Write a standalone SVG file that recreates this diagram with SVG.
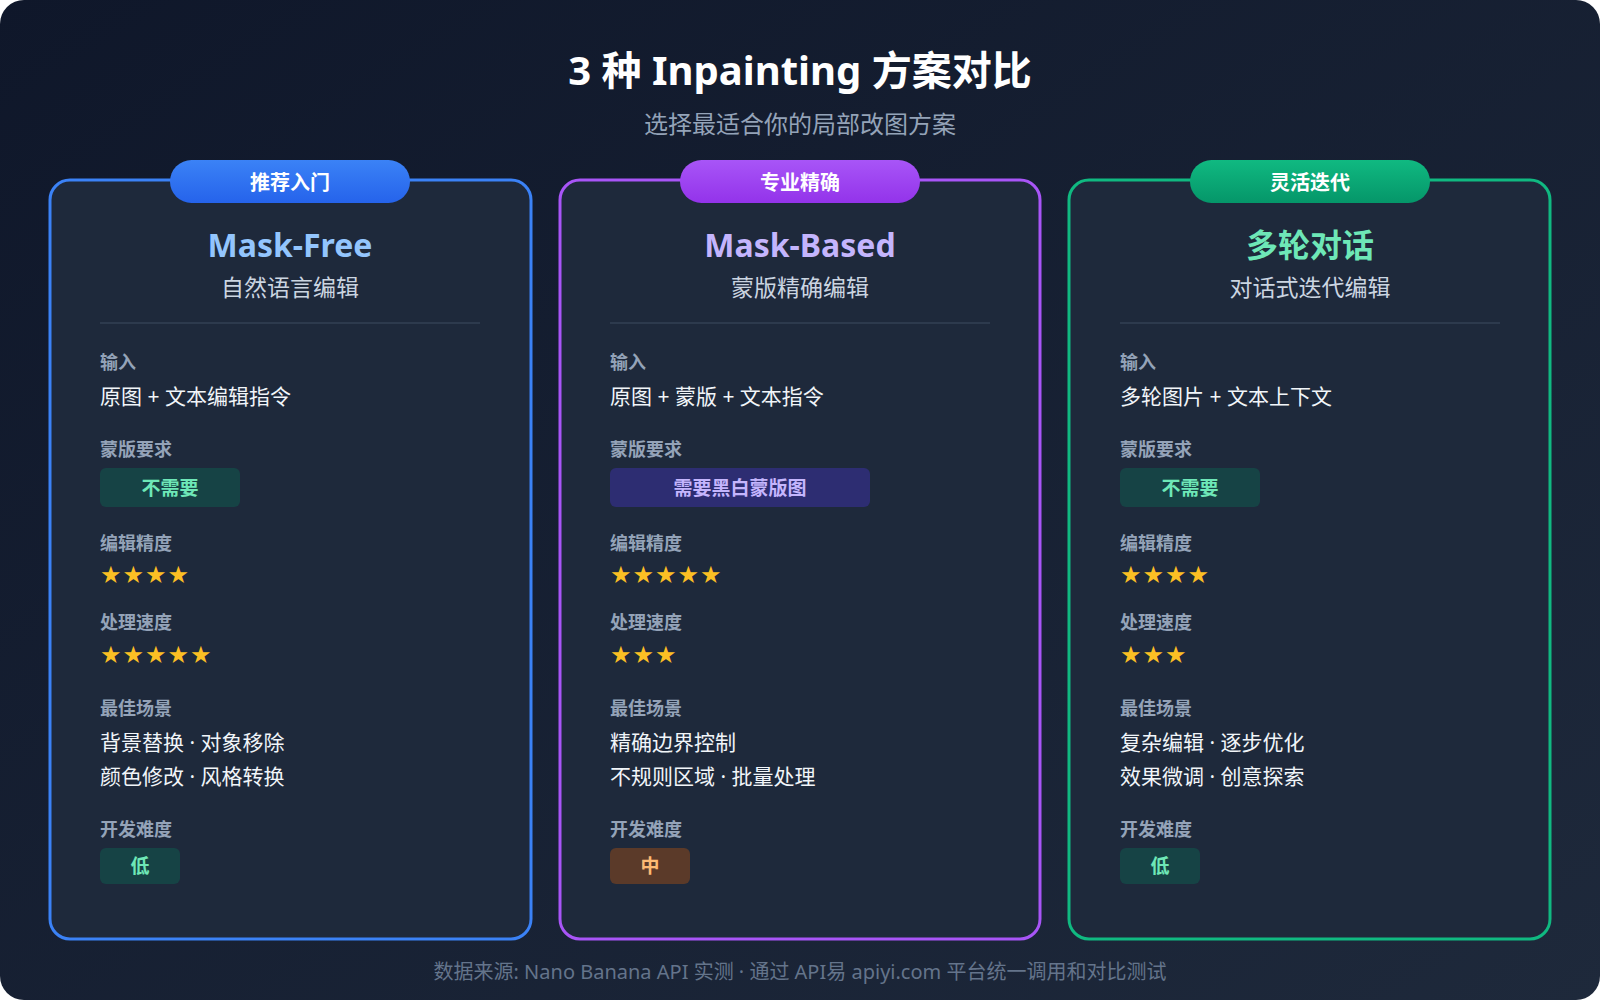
<svg xmlns="http://www.w3.org/2000/svg" width="1600" height="1000" viewBox="0 0 1600 1000">
<defs>
<linearGradient id="bg" x1="0" y1="0" x2="1" y2="1"><stop offset="0" stop-color="#0f172a"/><stop offset="1" stop-color="#1e293b"/></linearGradient>
<linearGradient id="gb" x1="0" y1="0" x2="0" y2="1"><stop offset="0" stop-color="#3b82f6"/><stop offset="1" stop-color="#2563eb"/></linearGradient>
<linearGradient id="gp" x1="0" y1="0" x2="0" y2="1"><stop offset="0" stop-color="#a855f7"/><stop offset="1" stop-color="#9333ea"/></linearGradient>
<linearGradient id="gg" x1="0" y1="0" x2="0" y2="1"><stop offset="0" stop-color="#10b981"/><stop offset="1" stop-color="#059669"/></linearGradient>
<style>
text{font-family:"Noto Sans","Noto Sans CJK SC",sans-serif;dominant-baseline:central}
.t{font-size:40px;font-weight:700;fill:#fff;text-anchor:middle}
.st{font-size:24px;fill:#94a3b8;text-anchor:middle}
.card{fill:#1e293b;stroke-width:3}
.bt{font-size:20px;font-weight:700;fill:#fff;text-anchor:middle}
.ct{font-size:32px;font-weight:700;text-anchor:middle}
.cs{font-size:23px;fill:#cbd5e1;text-anchor:middle}
.lb{font-size:18px;font-weight:700;fill:#94a3b8}
.v{font-size:21px;fill:#f1f5f9}
.star{font-size:24px;fill:#fbbf24;font-family:"DejaVu Sans",sans-serif;letter-spacing:1px}
.pt{font-size:19px;font-weight:700;text-anchor:middle}
.ft{font-size:20px;fill:#64748b;text-anchor:middle}
</style>
</defs>
<rect width="1600" height="1000" rx="24" fill="url(#bg)"/>
<text class="t" x="800" y="69">3 种 Inpainting 方案对比</text>
<text class="st" x="800" y="123">选择最适合你的局部改图方案</text>

<g id="card1">
<rect class="card" x="50" y="180" width="481" height="759" rx="20" stroke="#3b82f6"/>
<rect x="170" y="160" width="240" height="43" rx="21.5" fill="url(#gb)"/>
<text class="bt" x="290" y="182">推荐入门</text>
<text class="ct" x="290" y="244" fill="#93c5fd">Mask-Free</text>
<text class="cs" x="290" y="287">自然语言编辑</text>
<line x1="100" y1="323" x2="480" y2="323" stroke="#334155" stroke-width="1.5"/>
<text class="lb" x="100" y="362">输入</text>
<text class="v" x="100" y="396">原图 + 文本编辑指令</text>
<text class="lb" x="100" y="449">蒙版要求</text>
<rect x="100" y="468" width="140" height="39" rx="6" fill="#134e4a" fill-opacity="0.7"/>
<text class="pt" x="170" y="488" fill="#6ee7b7">不需要</text>
<text class="lb" x="100" y="543">编辑精度</text>
<text class="star" x="100" y="575">★★★★</text>
<text class="lb" x="100" y="622">处理速度</text>
<text class="star" x="100" y="655">★★★★★</text>
<text class="lb" x="100" y="708">最佳场景</text>
<text class="v" x="100" y="742">背景替换 · 对象移除</text>
<text class="v" x="100" y="776">颜色修改 · 风格转换</text>
<text class="lb" x="100" y="829">开发难度</text>
<rect x="100" y="848" width="80" height="36" rx="6" fill="#134e4a" fill-opacity="0.7"/>
<text class="pt" x="140" y="866" fill="#6ee7b7">低</text>
</g>

<g id="card2">
<rect class="card" x="560" y="180" width="480" height="759" rx="20" stroke="#a855f7"/>
<rect x="680" y="160" width="240" height="43" rx="21.5" fill="url(#gp)"/>
<text class="bt" x="800" y="182">专业精确</text>
<text class="ct" x="800" y="244" fill="#c4b5fd">Mask-Based</text>
<text class="cs" x="800" y="287">蒙版精确编辑</text>
<line x1="610" y1="323" x2="990" y2="323" stroke="#334155" stroke-width="1.5"/>
<text class="lb" x="610" y="362">输入</text>
<text class="v" x="610" y="396">原图 + 蒙版 + 文本指令</text>
<text class="lb" x="610" y="449">蒙版要求</text>
<rect x="610" y="468" width="260" height="39" rx="6" fill="#312e81" fill-opacity="0.8"/>
<text class="pt" x="740" y="488" fill="#c4b5fd">需要黑白蒙版图</text>
<text class="lb" x="610" y="543">编辑精度</text>
<text class="star" x="610" y="575">★★★★★</text>
<text class="lb" x="610" y="622">处理速度</text>
<text class="star" x="610" y="655">★★★</text>
<text class="lb" x="610" y="708">最佳场景</text>
<text class="v" x="610" y="742">精确边界控制</text>
<text class="v" x="610" y="776">不规则区域 · 批量处理</text>
<text class="lb" x="610" y="829">开发难度</text>
<rect x="610" y="848" width="80" height="36" rx="6" fill="#5b3a29"/>
<text class="pt" x="650" y="866" fill="#fdba74">中</text>
</g>

<g id="card3">
<rect class="card" x="1069" y="180" width="481" height="759" rx="20" stroke="#10b981"/>
<rect x="1190" y="160" width="240" height="43" rx="21.5" fill="url(#gg)"/>
<text class="bt" x="1310" y="182">灵活迭代</text>
<text class="ct" x="1310" y="244" fill="#6ee7b7">多轮对话</text>
<text class="cs" x="1310" y="287">对话式迭代编辑</text>
<line x1="1120" y1="323" x2="1500" y2="323" stroke="#334155" stroke-width="1.5"/>
<text class="lb" x="1120" y="362">输入</text>
<text class="v" x="1120" y="396">多轮图片 + 文本上下文</text>
<text class="lb" x="1120" y="449">蒙版要求</text>
<rect x="1120" y="468" width="140" height="39" rx="6" fill="#134e4a" fill-opacity="0.7"/>
<text class="pt" x="1190" y="488" fill="#6ee7b7">不需要</text>
<text class="lb" x="1120" y="543">编辑精度</text>
<text class="star" x="1120" y="575">★★★★</text>
<text class="lb" x="1120" y="622">处理速度</text>
<text class="star" x="1120" y="655">★★★</text>
<text class="lb" x="1120" y="708">最佳场景</text>
<text class="v" x="1120" y="742">复杂编辑 · 逐步优化</text>
<text class="v" x="1120" y="776">效果微调 · 创意探索</text>
<text class="lb" x="1120" y="829">开发难度</text>
<rect x="1120" y="848" width="80" height="36" rx="6" fill="#134e4a" fill-opacity="0.7"/>
<text class="pt" x="1160" y="866" fill="#6ee7b7">低</text>
</g>
<g id="connectors"/>
<text class="ft" x="800" y="971">数据来源: Nano Banana API 实测 · 通过 API易 apiyi.com 平台统一调用和对比测试</text>
</svg>
